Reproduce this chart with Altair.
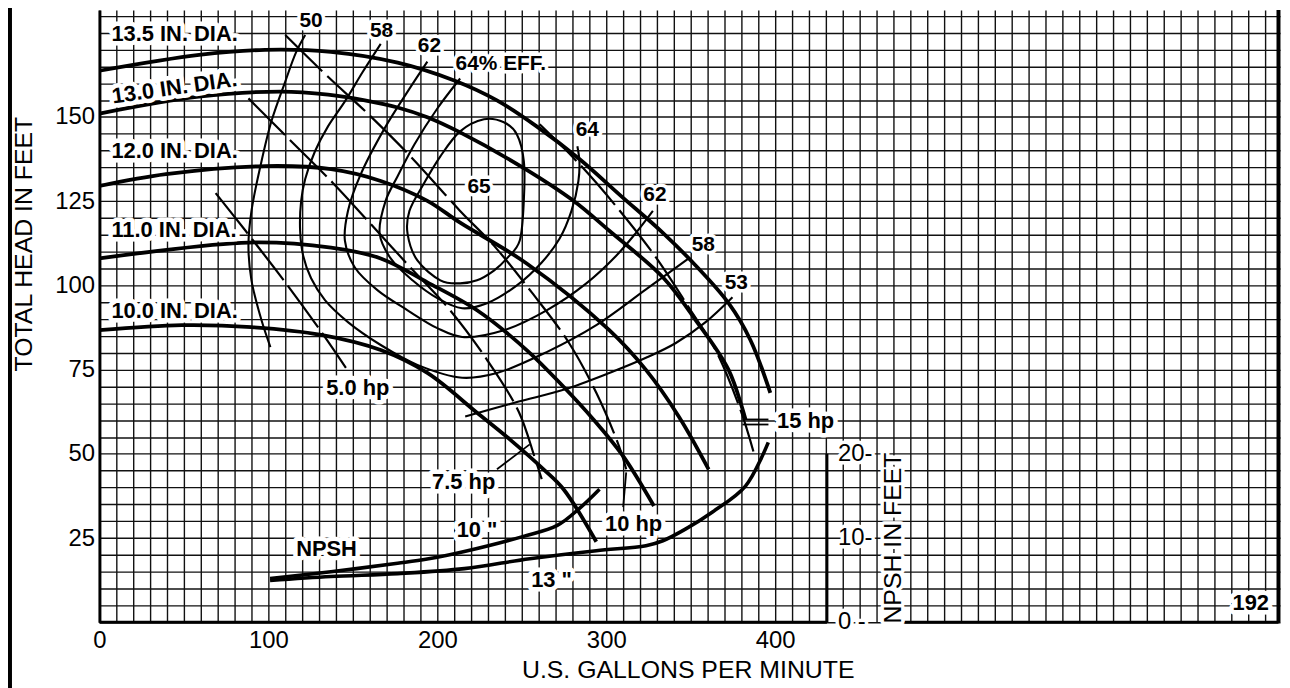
import altair as alt
import pandas as pd

# ---------------- values ----------------
# Impeller head-capacity curves: flow (US GPM) / total head (ft)
dia135_gpm = [0, 59, 98, 137, 176.5, 210, 235.3, 258.8, 284.1, 308.8, 333.5, 352.9, 372.4, 385.3, 397.1]
dia135_head = [163.7, 168.4, 169.9, 169.3, 166.1, 160.8, 154.9, 147.2, 137.5, 126.5, 115.6, 105.9, 94.7, 83.8, 68.1]
dia130_gpm = [0, 58.8, 107.6, 135.3, 157.1, 176.5, 194.1, 213.5, 251.2, 280.6, 301.8, 333.5, 352.9, 372.4, 382.4]
dia130_head = [151.0, 156.0, 157.5, 156.6, 154.9, 152.8, 149.9, 145.4, 134.8, 125.1, 116.2, 102.4, 89.7, 74.9, 60.2]
dia120_gpm = [0, 39.4, 98.2, 137.1, 166.5, 194.1, 213.5, 252.9, 301.8, 323.5, 342.9, 360.6]
dia120_head = [129.5, 133.0, 135.4, 134.5, 131.0, 125.1, 118.6, 106.5, 86.7, 74.9, 61.1, 45.4]
dia110_gpm = [0, 88.2, 137.1, 166.5, 194.1, 223.5, 252.9, 274.7, 292.4, 310.0, 328.2]
dia110_head = [108.0, 112.7, 111.2, 108.0, 100.9, 92.6, 80.8, 69.9, 60.2, 49.3, 34.5]
dia100_gpm = [0, 48.8, 90.0, 131.2, 166.5, 194.1, 223.5, 242.9, 262.9, 274.7, 294.1]
dia100_head = [86.7, 88.2, 87.6, 85.3, 80.8, 74.0, 62.2, 54.3, 45.4, 39.5, 23.9]

# Iso-efficiency curves (%)
eff50_gpm = [121.8, 116.5, 110.0, 101.8, 95.3, 90.0, 88.2, 90.0, 95.9, 101.2]
eff50_head = [174.3, 169.3, 160.5, 148.7, 135.4, 122.1, 111.8, 101.5, 89.7, 81.7]
eff58_gpm = [166.5, 155.9, 145.3, 135.3, 127.6, 121.8, 119.4, 118.8, 120.6, 125.3, 133.5, 147.1,
             166.5, 188.2, 214.7, 235.3, 264.7, 294.1, 323.5, 348.8]
eff58_head = [171.7, 163.4, 154.6, 147.2, 139.8, 131.6, 125.1, 116.2, 108.8, 102.1, 95.6, 89.1,
              82.3, 76.4, 72.6, 74.0, 80.2, 88.2, 98.8, 108.0]
eff62_gpm = [194.1, 182.4, 168.8, 154.7, 147.1, 145.3, 151.2, 164.7, 182.4, 200.0, 214.7, 239.4,
             264.7, 288.2, 305.9, 317.6, 327.6]
eff62_head = [166.4, 157.5, 146.6, 133.0, 122.1, 113.3, 105.3, 98.5, 92.6, 87.3, 84.7, 86.7,
              92.6, 100.6, 108.8, 115.6, 122.1]
eff64_gpm = [213.5, 200.0, 186.5, 176.5, 169.4, 165.9, 172.4, 185.3, 200.0, 214.7, 229.4, 247.1,
             261.8, 272.4, 279.4, 283.5, 284.1, 282.9]
eff64_head = [161.4, 152.5, 141.9, 132.4, 125.1, 115.3, 108.0, 101.5, 96.2, 93.2, 94.7, 100.0,
              106.8, 113.9, 122.1, 130.9, 136.9, 141.3]
eff65_gpm = [227.6, 239.4, 247.1, 251.2, 251.2, 248.8, 241.2, 233.5, 223.5, 213.5, 201.8, 188.2,
             182.4, 183.5, 191.2, 201.8, 213.5]
eff65_head = [149.3, 148.4, 144.8, 136.9, 125.1, 113.3, 108.0, 104.4, 101.5, 100.6, 101.5, 107.4,
              115.3, 122.1, 129.5, 138.3, 145.7]
eff53_gpm = [216.5, 248.2, 274.7, 301.8, 323.5, 341.2, 358.8, 374.7]
eff53_head = [61.1, 65.5, 69.0, 74.0, 78.5, 82.9, 89.1, 96.5]

# Brake horsepower lines
hp5_gpm = [68.8, 86.5, 110.0, 130.6, 145.9]
hp5_head = [127.4, 116.2, 100.9, 86.7, 75.5]
hp75_gpm = [88.2, 112.9, 138.2, 158.8, 184.1, 207.6, 229.4, 248.2, 257.6, 261.8]
hp75_head = [155.5, 143.1, 130.4, 119.2, 105.3, 92.6, 77.9, 62.5, 49.0, 42.5]
hp10_gpm = [110.0, 135.3, 158.8, 184.1, 213.5, 233.5, 255.9, 277.6, 294.1, 307.6, 311.8]
hp10_head = [174.3, 161.9, 151.0, 138.3, 122.1, 111.8, 97.9, 83.2, 68.1, 52.2, 45.4]
hp15_gpm = [260.6, 284.1, 307.1, 329.4, 348.8, 364.7, 379.4, 387.1]
hp15_head = [147.8, 136.0, 122.7, 108.3, 93.5, 80.8, 63.1, 50.7]

# NPSH required (ft of NPSH, right-hand scale)
npsh10_gpm = [101, 137, 176.5, 194, 216, 251, 271, 284, 296]
npsh10_ft = [5.2, 6.0, 7.0, 7.5, 8.4, 10.2, 11.5, 13.5, 15.8]
npsh13_gpm = [101, 137, 176.5, 216, 254.7, 294.1, 323.5, 333.5, 347.1, 362.9, 382.4, 395.9]
npsh13_ft = [4.96, 5.43, 5.78, 6.37, 7.55, 8.5, 9.09, 9.68, 11.09, 13.1, 16.17, 21.36]

# label leaders
lead75_gpm = [235.3, 254.7]
lead75_head = [45.4, 52.8]
lead10_gpm = [311.8, 310.0]
lead10_head = [44.5, 34.2]
lead15a_gpm = [380.6, 396.0]
lead15a_head = [60.2, 60.2]
lead15b_gpm = [380.6, 396.0]
lead15b_head = [58.7, 58.7]

# text labels
dia_lab_text = ["13.5 IN. DIA.", "12.0 IN. DIA.", "11.0 IN. DIA.", "10.0 IN. DIA."]
dia_lab_gpm = [7.1, 7.1, 7.1, 7.1]
dia_lab_head = [172.6, 137.8, 114.5, 90.3]
tilt_lab_text = ["13.0 IN. DIA."]
tilt_lab_gpm = [45.0]
tilt_lab_head = [156.6]
eff_lab_text = ["50", "58", "62", "64% EFF.", "64", "65", "62", "58", "53"]
eff_lab_gpm = [125.3, 167.0, 195.3, 237.6, 288.8, 224.7, 328.8, 357.4, 377.0]
eff_lab_head = [176.6, 173.7, 169.3, 163.9, 144.2, 127.5, 125.1, 110.3, 99.0]
misc_lab_text = ["5.0 hp", "7.5 hp", "10 hp", "15 hp", "NPSH", '10 "', '13 "', "192"]
misc_lab_gpm = [152.9, 215.6, 316.2, 418.0, 134.4, 223.5, 267.6, 681.5]
misc_lab_head = [67.6, 39.5, 27.1, 57.8, 19.8, 25.4, 10.6, 3.5]
npsh_tick_values = [0, 10, 20]
npsh_tick_text = ["0 -", "10-", "20-"]

# chart frame
X_MAX = 698.8
Y_MAX = 181.7
BORDER_GPM = 697.9
NPSH_AXIS_GPM = 430.6
NPSH_TO_HEAD = 2.5          # 10 ft NPSH is drawn at 25 ft of head
NPSH_LABEL_GPM = 437.1
NPSH_TITLE_GPM = 474.7
FONT = "Liberation Sans"


def curve(name, xs, ys):
    return pd.DataFrame({"curve": name, "gpm": xs, "val": ys, "idx": list(range(len(xs)))})


head_df = pd.concat([
    curve("13.5", dia135_gpm, dia135_head), curve("13.0", dia130_gpm, dia130_head),
    curve("12.0", dia120_gpm, dia120_head), curve("11.0", dia110_gpm, dia110_head),
    curve("10.0", dia100_gpm, dia100_head)])
eff_df = pd.concat([
    curve("50", eff50_gpm, eff50_head), curve("58", eff58_gpm, eff58_head),
    curve("62", eff62_gpm, eff62_head), curve("64", eff64_gpm, eff64_head),
    curve("53", eff53_gpm, eff53_head)])
loop_df = curve("65", eff65_gpm, eff65_head)
hp_df = pd.concat([
    curve("5", hp5_gpm, hp5_head), curve("7.5", hp75_gpm, hp75_head),
    curve("10", hp10_gpm, hp10_head), curve("15", hp15_gpm, hp15_head)])
npsh_df = pd.concat([curve("10in", npsh10_gpm, npsh10_ft), curve("13in", npsh13_gpm, npsh13_ft)])
lead_df = pd.concat([
    curve("l75", lead75_gpm, lead75_head), curve("l10", lead10_gpm, lead10_head),
    curve("l15a", lead15a_gpm, lead15a_head), curve("l15b", lead15b_gpm, lead15b_head)])

xscale = alt.Scale(domain=[0, X_MAX], nice=False, zero=False)
yscale = alt.Scale(domain=[0, Y_MAX], nice=False, zero=False)
xaxis = alt.Axis(
    values=list(range(0, 700, 10)),
    labelExpr="(datum.value % 100 == 0 && datum.value <= 400) ? datum.label : ''",
    grid=True, ticks=False, domain=False, labelOverlap=False, labelFlush=False,
    labelFont=FONT, labelFontSize=24, labelColor="black", labelPadding=6,
    title="U.S. GALLONS PER MINUTE", titleFont=FONT, titleFontSize=25, titleFontWeight="normal",
    titleColor="black", titleX=592, titleY=56, titleAlign="center", titleBaseline="alphabetic",
    gridColor="#111111", gridWidth=1.4)
yaxis = alt.Axis(
    values=list(range(0, 185, 5)),
    labelExpr="(datum.value % 25 == 0 && datum.value >= 25 && datum.value <= 150) ? datum.label : ''",
    grid=True, ticks=False, domain=True, domainColor="black", domainWidth=3,
    labelOverlap=False, labelFlush=False,
    labelFont=FONT, labelFontSize=24, labelColor="black", labelPadding=5,
    title="TOTAL HEAD IN FEET", titleFont=FONT, titleFontSize=25, titleFontWeight="normal",
    titleColor="black", titleAngle=270, titleX=-68, titleY=235, titleAlign="center",
    titleBaseline="alphabetic", gridColor="#111111", gridWidth=1.4)


def X(field="gpm"):
    return alt.X(f"{field}:Q", scale=xscale, axis=xaxis)


def Y(field="val"):
    return alt.Y(f"{field}:Q", scale=yscale, axis=yaxis)


head_layer = alt.Chart(head_df).mark_line(
    color="black", strokeWidth=3.8, interpolate="catmull-rom").encode(
    x=X(), y=Y(), detail="curve:N", order="idx:Q")
eff_layer = alt.Chart(eff_df).mark_line(
    color="black", strokeWidth=2.1, interpolate="catmull-rom").encode(
    x=X(), y=Y(), detail="curve:N", order="idx:Q")
loop_layer = alt.Chart(loop_df).mark_line(
    color="black", strokeWidth=2.1, interpolate="cardinal-closed").encode(
    x=X(), y=Y(), order="idx:Q")
hp_layer = alt.Chart(hp_df).mark_line(
    color="black", strokeWidth=2.2, interpolate="catmull-rom", strokeDash=[52, 7]).encode(
    x=X(), y=Y(), detail="curve:N", order="idx:Q")
npsh_layer = alt.Chart(npsh_df).transform_calculate(
    head=f"datum.val * {NPSH_TO_HEAD}").mark_line(
    color="black", strokeWidth=3.6, interpolate="catmull-rom").encode(
    x=X(), y=Y("head"), detail="curve:N", order="idx:Q")
lead_layer = alt.Chart(lead_df).mark_line(color="black", strokeWidth=1.8).encode(
    x=X(), y=Y(), detail="curve:N", order="idx:Q")

frame_df = pd.DataFrame({
    "gpm": [0, 476.5, NPSH_AXIS_GPM],
    "gpm2": [NPSH_AXIS_GPM, BORDER_GPM, NPSH_AXIS_GPM],
    "val": [0, 0, 0],
    "val2": [0, 0, 20 * NPSH_TO_HEAD]})
frame_layer = alt.Chart(frame_df).mark_rule(color="black", strokeWidth=3).encode(
    x=X(), x2="gpm2:Q", y=Y(), y2="val2:Q")
border_df = pd.DataFrame({"gpm": [BORDER_GPM], "val": [0], "val2": [Y_MAX]})
right_border = alt.Chart(border_df).mark_rule(color="black", strokeWidth=4).encode(
    x=X(), y=Y(), y2="val2:Q")
left_border = alt.Chart(border_df).mark_rule(color="black", strokeWidth=4).encode(
    x=alt.value(-90), y=alt.value(-10), y2=alt.value(700))


def text_layers(df, size, weight="bold", align="center", baseline="alphabetic", angle=0, halo=9):
    kw = dict(font=FONT, fontSize=size, fontWeight=weight, align=align, baseline=baseline)
    if angle:
        kw["angle"] = angle
    enc = dict(x=X(), y=Y(), text="text:N")
    h = alt.Chart(df).mark_text(fill="white", stroke="white", strokeWidth=halo,
                                strokeJoin="round", **kw).encode(**enc)
    t = alt.Chart(df).mark_text(color="black", **kw).encode(**enc)
    return [h, t]


def lab(texts, xs, ys):
    return pd.DataFrame({"text": texts, "gpm": xs, "val": ys})


labels = []
labels += text_layers(lab(dia_lab_text, dia_lab_gpm, dia_lab_head), 22, align="left")
labels += text_layers(lab(tilt_lab_text, tilt_lab_gpm, tilt_lab_head), 22, angle=352)
labels += text_layers(lab(eff_lab_text, eff_lab_gpm, eff_lab_head), 21, halo=7)
labels += text_layers(lab(misc_lab_text, misc_lab_gpm, misc_lab_head), 22)
npsh_tick_df = pd.DataFrame({"text": npsh_tick_text,
                             "gpm": [NPSH_LABEL_GPM] * 3,
                             "val": [v * NPSH_TO_HEAD for v in npsh_tick_values]})
labels += text_layers(npsh_tick_df, 24, weight="normal", align="left", baseline="middle", halo=7)
npsh_title_df = pd.DataFrame({"text": ["NPSH IN FEET"], "gpm": [NPSH_TITLE_GPM],
                              "val": [10 * NPSH_TO_HEAD]})
labels += text_layers(npsh_title_df, 25, weight="normal", angle=270, halo=7)

chart = alt.layer(
    eff_layer, loop_layer, hp_layer, npsh_layer, head_layer, lead_layer, frame_layer,
    right_border, left_border, *labels
).properties(
    width=1188, height=616,
    padding={"left": 92, "top": 0, "right": 2, "bottom": 64},
    autosize=alt.AutoSizeParams(type="none"),
    background="white",
).configure_view(stroke=None)

chart.save("out.html", embed_options={"renderer": "svg", "actions": False})
